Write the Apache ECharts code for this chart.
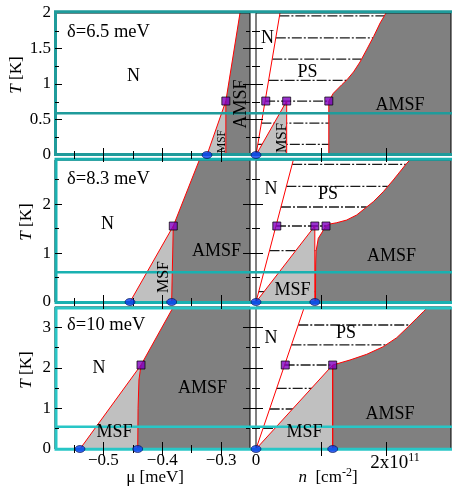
<!DOCTYPE html>
<html><head><meta charset="utf-8">
<script src="https://cdn.jsdelivr.net/npm/echarts@6.0.0/dist/echarts.min.js"></script>
<style>html,body{margin:0;padding:0;background:#fff;}#chart{width:452px;height:489px;}</style>
</head><body><div id="chart"></div>
<script>
// ---------------- axis domains ----------------
const muMin = -0.582, muMax = -0.251;       // μ [meV]
const nMin = 0, nMax = 3;                   // n in units of 1e11 cm^-2
const tMaxes = [2, 2.9, 3.5];               // T [K] per row
const deltaLabels = ['δ=6.5 meV', 'δ=8.3 meV', 'δ=10 meV'];

// ---------------- ticks ----------------
const muMajor = [-0.5, -0.4, -0.3];
const muMinor = [-0.55, -0.45, -0.35];
const nMajor = [1, 2];
const nLabels = [0];
const tMajor = [[0.5, 1, 1.5], [1, 2], [1, 2, 3]];
const tMinor = [[0.25, 0.75, 1.25, 1.75], [0.5, 1.5, 2.5], [0.5, 1.5, 2.5]];
const tLabels = [[0, 0.5, 1, 1.5, 2], [0, 1, 2], [0, 1, 2, 3]];

// ---------------- δ = 6.5 meV ----------------
const mu65_N_MSF = [[-0.324, 0], [-0.292, 0.76]];
const mu65_MSF_AMSF = [[-0.292, 0], [-0.292, 0.76]];
const mu65_N_AMSF = [[-0.292, 0.76], [-0.268, 2.0]];
const mu65_zeros = [[-0.324, 0]];
const mu65_tcp = [[-0.292, 0.76]];
const n65_N = [[0, 0], [0.369, 2.0]];
const n65_MSF = [[0, 0], [0.472, 0.76], [0.472, 0]];
const n65_AMSF = [[1.12, 0], [1.12, 0.76], [1.19, 0.87], [1.32, 0.99], [1.40, 1.06], [1.50, 1.17], [1.60, 1.31], [1.70, 1.48], [1.81, 1.67], [1.91, 1.86], [2.0, 2.0]];
const n65_ties = [[1.96, 0.36, 1.98], [1.65, 0.305, 1.80], [1.35, 0.25, 1.62], [1.05, 0.194, 1.39], [0.76, 0.14, 1.12], [0.45, 0.083, 1.12], [0.15, 0.028, 1.12]];
const n65_zeros = [[0, 0]];
const n65_squares = [[0.15, 0.76], [0.472, 0.76], [1.12, 0.76]];

// ---------------- δ = 8.3 meV ----------------
const mu83_N_MSF = [[-0.4547, 0], [-0.3812, 1.552]];
const mu83_MSF_AMSF = [[-0.384, 0], [-0.3812, 1.552]];
const mu83_N_AMSF = [[-0.3812, 1.552], [-0.337, 2.9]];
const mu83_zeros = [[-0.4547, 0], [-0.384, 0]];
const mu83_tcp = [[-0.3812, 1.552]];
const n83_N = [[0, 0], [0.574, 2.9]];
const n83_MSF = [[0, 0], [0.905, 1.552], [0.905, 0]];
const n83_AMSF = [[0.915, 0], [0.918, 0.756], [0.923, 1.027], [0.958, 1.30], [1.077, 1.552], [1.138, 1.593], [1.242, 1.619], [1.395, 1.674], [1.549, 1.777], [1.677, 1.913], [1.805, 2.048], [1.958, 2.252], [2.112, 2.491], [2.318, 2.832], [2.369, 2.9]];
const n83_ties = [[2.81, 0.556, 2.305], [2.36, 0.467, 2.028], [1.94, 0.384, 1.703], [1.552, 0.307, 1.077], [1.05, 0.208, 0.915], [0.62, 0.123, 0.915], [0.21, 0.042, 0.915]];
const n83_zeros = [[0, 0], [0.905, 0]];
const n83_squares = [[0.32, 1.552], [0.905, 1.552], [1.077, 1.552]];

// ---------------- δ = 10 meV ----------------
const mu10_N_MSF = [[-0.5396, 0], [-0.436, 2.07]];
const mu10_MSF_AMSF = [[-0.4416, 0], [-0.441, 1.0], [-0.4395, 1.7], [-0.436, 2.07]];
const mu10_N_AMSF = [[-0.436, 2.07], [-0.3812, 3.5]];
const mu10_zeros = [[-0.5396, 0], [-0.4416, 0]];
const mu10_tcp = [[-0.436, 2.07]];
const n10_N = [[0, 0], [0.744, 3.5]];
const n10_MSF = [[0, 0], [1.18, 2.07], [1.18, 0]];
const n10_AMSF = [[1.18, 0], [1.18, 2.07], [1.446, 2.194], [1.703, 2.334], [1.958, 2.522], [2.165, 2.743], [2.343, 3.015], [2.472, 3.222], [2.574, 3.384], [2.65, 3.5]];
const n10_ties = [[3.056, 0.65, 2.369], [2.565, 0.545, 1.998], [2.07, 0.44, 1.18], [1.496, 0.318, 1.18], [0.986, 0.21, 1.18], [0.51, 0.108, 1.18]];
const n10_zeros = [[0, 0], [1.18, 0]];
const n10_squares = [[0.45, 2.07], [1.18, 2.07]];

const panels = [
  { mu: [mu65_N_MSF, mu65_MSF_AMSF, mu65_N_AMSF, mu65_zeros, mu65_tcp], n: [n65_N, n65_MSF, n65_AMSF, n65_ties, n65_zeros, n65_squares] },
  { mu: [mu83_N_MSF, mu83_MSF_AMSF, mu83_N_AMSF, mu83_zeros, mu83_tcp], n: [n83_N, n83_MSF, n83_AMSF, n83_ties, n83_zeros, n83_squares] },
  { mu: [mu10_N_MSF, mu10_MSF_AMSF, mu10_N_AMSF, mu10_zeros, mu10_tcp], n: [n10_N, n10_MSF, n10_AMSF, n10_ties, n10_zeros, n10_squares] }
];

// ---------------- styles / layout ----------------
const FONT = 'Liberation Serif';
const C_MSF = '#c0c0c0', C_AMSF = '#808080', C_RED = '#ff0000';
const gridTops = [13, 160, 307];
const teal = [
  { color: '#1f9b9b', box: [55.5, 11.8, 400, 142.7], h: 113.3 },
  { color: '#19b1b1', box: [56, 159.3, 400, 143.2], h: 272.3 },
  { color: '#28c6c6', box: [56, 308, 400, 141.2], h: 426.7 }
];

const grids = [], xAxes = [], yAxes = [], series = [];
function mkAxis(gi, pos, min, max, ticks, len, labels, fmt) {
  const ax = { type: 'value', gridIndex: gi, position: pos, min: min, max: max, z: 6, silent: true,
    axisLine: { show: false }, splitLine: { show: false }, minorTick: { show: false },
    axisTick: { show: ticks.length > 0, inside: true, length: len, customValues: ticks, lineStyle: { color: '#000', width: 1 } },
    axisLabel: { show: false } };
  if (labels) ax.axisLabel = { show: true, customValues: labels, formatter: fmt, fontFamily: FONT, fontSize: 17, color: '#000',
    margin: (pos === 'bottom' || pos === 'top') ? 3 : 4, showMinLabel: true, showMaxLabel: true };
  return ax;
}
const fmtMu = v => '\u2212' + Math.abs(v).toFixed(1);
const fmtPlain = v => String(+(+v).toFixed(2));

for (let row = 0; row < 3; row++) {
  for (let side = 0; side < 2; side++) {
    const gi = row * 2 + side, isLeft = side === 0, Tmax = tMaxes[row];
    grids.push({ left: isLeft ? 55 : 256, top: gridTops[row], width: 195, height: 142, show: true,
      borderColor: '#000', borderWidth: 1, backgroundColor: 'transparent', z: 4 });
    const xmin = isLeft ? muMin : nMin, xmax = isLeft ? muMax : nMax;
    const xMaj = isLeft ? muMajor : nMajor, xMin = isLeft ? muMinor : [];
    const xLab = row === 2 ? (isLeft ? muMajor : nLabels) : null;
    xAxes.push(mkAxis(gi, 'bottom', xmin, xmax, xMaj, 7, xLab, isLeft ? fmtMu : fmtPlain));
    xAxes.push(mkAxis(gi, 'bottom', xmin, xmax, xMin, 4, null));
    xAxes.push(mkAxis(gi, 'top', xmin, xmax, xMaj, 7, null));
    xAxes.push(mkAxis(gi, 'top', xmin, xmax, xMin, 4, null));
    yAxes.push(mkAxis(gi, 'left', 0, Tmax, tMajor[row], 7, isLeft ? tLabels[row] : null, fmtPlain));
    yAxes.push(mkAxis(gi, 'left', 0, Tmax, tMinor[row], 4, null));
    yAxes.push(mkAxis(gi, 'right', 0, Tmax, tMajor[row], 7, null));
    yAxes.push(mkAxis(gi, 'right', 0, Tmax, tMinor[row], 4, null));
  }
}

function poly(gi, pts, color, z) {
  series.push({ type: 'custom', xAxisIndex: gi * 4, yAxisIndex: gi * 4, silent: true, z: z, clip: true,
    data: [pts[0]],
    renderItem: (p, api) => ({ type: 'polygon', shape: { points: pts.map(q => api.coord(q)) }, style: { fill: color } }) });
}
function line(gi, pts, style, z) {
  series.push({ type: 'line', xAxisIndex: gi * 4, yAxisIndex: gi * 4, data: pts, symbol: 'none', silent: true,
    z: z, lineStyle: style, clip: true });
}
function marks(gi, pts, kind) {
  const dot = kind === 'dot';
  series.push({ type: 'scatter', xAxisIndex: gi * 4, yAxisIndex: gi * 4, data: pts, silent: true, z: 7, clip: false,
    symbol: dot ? 'circle' : 'rect', symbolSize: dot ? [10, 7] : 8,
    itemStyle: dot ? { color: '#0a3cf0', borderColor: '#00124d', borderWidth: 0.8 } : { color: '#8000c0', borderColor: '#000', borderWidth: 0.9 } });
}
const redStyle = { color: C_RED, width: 1 };
const tieStyle = { color: '#1a1a1a', width: 1.3, type: [10, 2, 2, 2] };

panels.forEach((P, row) => {
  const gL = row * 2, gR = row * 2 + 1, Tmax = tMaxes[row];
  const [nMsf, msfAmsf, nAmsf, zeros, tcp] = P.mu;
  poly(gL, nMsf.concat(msfAmsf.slice().reverse()), C_MSF, 2);
  poly(gL, msfAmsf.concat(nAmsf.slice(1), [[muMax, Tmax], [muMax, 0]]), C_AMSF, 2);
  [nMsf, msfAmsf, nAmsf].forEach(a => line(gL, a, redStyle, 3));
  marks(gL, zeros, 'dot');
  marks(gL, tcp, 'sq');

  const [N, msf, amsf, ties, nz, sq] = P.n;
  ties.forEach(t => line(gR, [[t[1], t[0]], [t[2], t[0]]], tieStyle, 1));
  poly(gR, msf, C_MSF, 2);
  poly(gR, amsf.concat([[nMax, Tmax], [nMax, 0]]), C_AMSF, 2);
  [N, msf, amsf].forEach(a => line(gR, a, redStyle, 3));
  marks(gR, nz, 'dot');
  marks(gR, sq, 'sq');
});

// ---------------- text & overlay graphics ----------------
const graphic = [];
teal.forEach(t => {
  graphic.push({ type: 'rect', z: 5, silent: true, shape: { x: t.box[0], y: t.box[1], width: t.box[2], height: t.box[3] },
    style: { fill: 'none', stroke: t.color, lineWidth: 3 } });
  graphic.push({ type: 'line', z: 5, silent: true, shape: { x1: t.box[0], y1: t.h, x2: 460, y2: t.h },
    style: { stroke: t.color, lineWidth: 2.5 } });
});
function txt(t, x, y, o) {
  o = o || {};
  graphic.push({ type: 'text', x: x, y: y, rotation: o.rot ? Math.PI / 2 : 0, z: 10, silent: true,
    style: { text: t, x: 0, y: 0, fontFamily: FONT, fontSize: o.size || 18, fill: '#000',
      align: o.align || 'center', verticalAlign: 'middle', rich: o.rich } });
}
const italicRich = { i: { fontStyle: 'italic', fontFamily: FONT, fontSize: 17 } };
const supStyle = { fontFamily: FONT, fontSize: 12, padding: [0, 0, 10, 0] };
txt(deltaLabels[0], 67, 32, { align: 'left', size: 18.5 });
txt(deltaLabels[1], 67, 179, { align: 'left', size: 18.5 });
txt(deltaLabels[2], 67, 325, { align: 'left', size: 18.5 });
txt('{i|T} [K]', 17, 75, { rot: true, size: 17, rich: italicRich });
txt('{i|T} [K]', 27, 222, { rot: true, size: 17, rich: italicRich });
txt('{i|T} [K]', 27, 370, { rot: true, size: 17, rich: italicRich });
// row 1
txt('N', 133.5, 76); txt('AMSF', 241.5, 104, { rot: true }); txt('MSF', 221.5, 141.5, { rot: true, size: 11.5 });
txt('N', 267.5, 38); txt('PS', 307.5, 72); txt('AMSF', 400, 105); txt('MSF', 282, 138, { rot: true, size: 15 });
// row 2
txt('N', 107.5, 224); txt('AMSF', 216.5, 251); txt('MSF', 163.5, 277, { rot: true, size: 16 });
txt('N', 271, 189); txt('PS', 328, 194); txt('AMSF', 391.5, 256); txt('MSF', 292.5, 290);
// row 3
txt('N', 99, 368); txt('AMSF', 202.5, 388); txt('MSF', 114.5, 432);
txt('N', 271, 338); txt('PS', 346, 333); txt('AMSF', 390, 414); txt('MSF', 304.5, 432);
// axis titles
txt('\u03bc [meV]', 155, 478, { size: 17 });
txt('{i|n}  [cm{s|-2}]', 328, 478, { size: 17, rich: { i: { fontStyle: 'italic', fontFamily: FONT, fontSize: 17 }, s: supStyle } });
txt('{a|2x10}{s|11}', 395, 463, { size: 19, rich: { a: { fontFamily: FONT, fontSize: 19 }, s: supStyle } });

const chart = echarts.init(document.getElementById('chart'), null, { renderer: 'canvas' });
chart.setOption({
  animation: false,
  backgroundColor: '#fff',
  grid: grids, xAxis: xAxes, yAxis: yAxes, series: series, graphic: graphic
});
</script></body></html>
